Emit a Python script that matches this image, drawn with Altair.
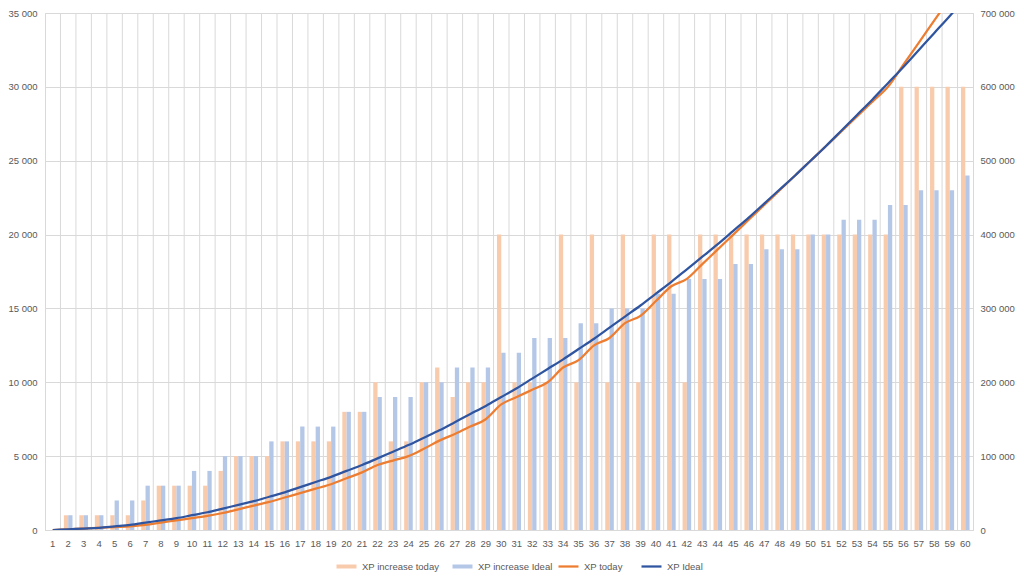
import altair as alt
import pandas as pd

levels = list(range(1, 61))

xp_increase_today = [
    0, 1000, 1000, 1000, 1000, 1000, 2000, 3000, 3000, 3000,
    3000, 4000, 5000, 5000, 5000, 6000, 6000, 6000, 6000, 8000,
    8000, 10000, 6000, 6000, 10000, 11000, 9000, 10000, 10000, 20000,
    10000, 10000, 10000, 20000, 10000, 20000, 10000, 20000, 10000, 20000,
    20000, 10000, 20000, 20000, 20000, 20000, 20000, 20000, 20000, 20000,
    20000, 20000, 20000, 20000, 20000, 30000, 30000, 30000, 30000, 30000,
]

xp_increase_ideal = [
    0, 1000, 1000, 1000, 2000, 2000, 3000, 3000, 3000, 4000,
    4000, 5000, 5000, 5000, 6000, 6000, 7000, 7000, 7000, 8000,
    8000, 9000, 9000, 9000, 10000, 10000, 11000, 11000, 11000, 12000,
    12000, 13000, 13000, 13000, 14000, 14000, 15000, 15000, 15000, 16000,
    16000, 17000, 17000, 17000, 18000, 18000, 19000, 19000, 19000, 20000,
    20000, 21000, 21000, 21000, 22000, 22000, 23000, 23000, 23000, 24000,
]

xp_today = [
    0, 1000, 2000, 3000, 4000, 5000, 7000, 10000, 13000, 16000,
    19000, 23000, 28000, 33000, 38000, 44000, 50000, 56000, 62000, 70000,
    78000, 88000, 94000, 100000, 110000, 121000, 130000, 140000, 150000, 170000,
    180000, 190000, 200000, 220000, 230000, 250000, 260000, 280000, 290000, 310000,
    330000, 340000, 360000, 380000, 400000, 420000, 440000, 460000, 480000, 500000,
    520000, 540000, 560000, 580000, 600000, 630000, 660000, 690000, 720000, 750000,
]

xp_ideal = [
    0, 1000, 2000, 3000, 5000, 7000, 10000, 13000, 16000, 20000,
    24000, 29000, 34000, 39000, 45000, 51000, 58000, 65000, 72000, 80000,
    88000, 97000, 106000, 115000, 125000, 135000, 146000, 157000, 168000, 180000,
    192000, 205000, 218000, 231000, 245000, 259000, 274000, 289000, 304000, 320000,
    336000, 353000, 370000, 387000, 405000, 423000, 442000, 461000, 480000, 500000,
    520000, 541000, 562000, 583000, 605000, 627000, 650000, 673000, 696000, 720000,
]

bar_series = ["XP increase today", "XP increase Ideal"]
bar_colors = ["#F8CBAD", "#B4C7E7"]
line_series = ["XP today", "XP Ideal"]
line_colors = ["#ED7D31", "#2F55A0"]

bars_df = pd.concat([
    pd.DataFrame({"level": levels, "series": bar_series[0], "xp": xp_increase_today}),
    pd.DataFrame({"level": levels, "series": bar_series[1], "xp": xp_increase_ideal}),
])
lines_df = pd.concat([
    pd.DataFrame({"level": levels, "series": line_series[0], "xp": xp_today}),
    pd.DataFrame({"level": levels, "series": line_series[1], "xp": xp_ideal}),
])
grid_df = pd.DataFrame({"level": levels[1:]})

GRID = "#d9d9d9"
LABEL = "#595959"
FONT = "Liberation Sans"
SIZE = 9.5
space_fmt = "replace(format(datum.value, ','), ',', ' ')"

x_scale = alt.Scale(paddingInner=0, paddingOuter=0)
x_axis = alt.Axis(labelAngle=0, ticks=False, domainColor=GRID, grid=False, title=None,
                  labelPadding=8, labelColor=LABEL, labelFontSize=SIZE, labelFont=FONT)


def legend(x, symbol, gap):
    return alt.Legend(
        title=None, orient="none", direction="horizontal", legendX=x, legendY=542,
        labelFont=FONT, labelFontSize=SIZE, labelColor=LABEL, labelOffset=4,
        columnPadding=gap, symbolSize=400, symbolType=symbol, symbolStrokeWidth=2.25,
    )


vgrid = (
    alt.Chart(grid_df)
    .mark_rule(color=GRID, strokeWidth=1)
    .encode(x=alt.X("level:O", bandPosition=0, scale=x_scale, axis=x_axis))
)

bars = (
    alt.Chart(bars_df)
    .mark_bar()
    .encode(
        x=alt.X("level:O", scale=x_scale, axis=x_axis),
        xOffset=alt.XOffset("series:N", sort=bar_series,
                            scale=alt.Scale(paddingInner=0, paddingOuter=0.8)),
        y=alt.Y("xp:Q", scale=alt.Scale(domain=[0, 35000], nice=False),
                axis=alt.Axis(values=list(range(0, 35001, 5000)), grid=True, gridColor=GRID,
                              domain=False, ticks=False, title=None, labelPadding=8,
                              labelExpr=space_fmt, labelColor=LABEL, labelFontSize=SIZE,
                              labelFont=FONT)),
        color=alt.Color("series:N", scale=alt.Scale(domain=bar_series, range=bar_colors),
                        legend=legend(290, "M-1,-0.2H1V0.2H-1Z", 11)),
    )
)

lines = (
    alt.Chart(lines_df)
    .mark_line(interpolate="monotone", strokeWidth=2.25, clip=True)
    .encode(
        x=alt.X("level:O", scale=x_scale, axis=x_axis),
        y=alt.Y("xp:Q", scale=alt.Scale(domain=[0, 700000], nice=False),
                axis=alt.Axis(orient="right", values=list(range(0, 700001, 100000)), grid=False,
                              domain=False, ticks=False, title=None, labelPadding=7,
                              labelExpr=space_fmt, labelColor=LABEL, labelFontSize=SIZE,
                              labelFont=FONT)),
        stroke=alt.Stroke("series:N", scale=alt.Scale(domain=line_series, range=line_colors),
                          legend=legend(512, "stroke", 14)),
    )
)

chart = (
    alt.layer(vgrid, bars, lines)
    .resolve_scale(y="independent")
    .properties(
        width=928, height=517,
        autosize=alt.AutoSizeParams(type="none"),
        padding={"left": 37, "top": 5, "right": 43, "bottom": 45},
    )
    .configure_view(stroke=GRID)
)

chart.save("out.html", embed_options={"renderer": "svg", "actions": False})
